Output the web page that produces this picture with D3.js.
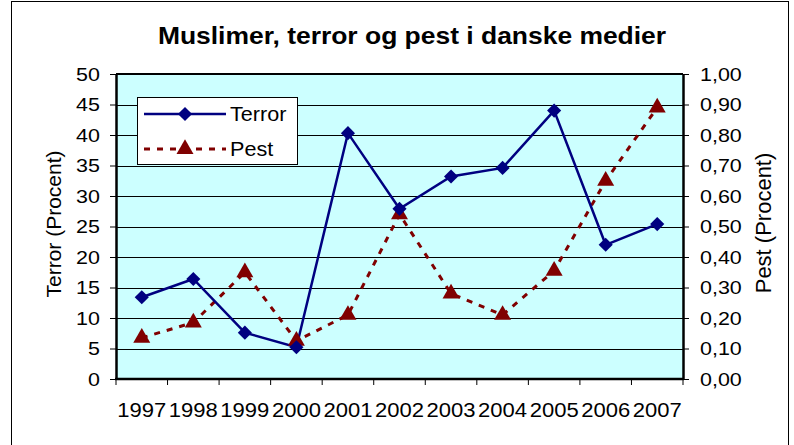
<!DOCTYPE html>
<html>
<head>
<meta charset="utf-8">
<script src="https://cdn.jsdelivr.net/npm/d3@7"></script>
<style>
  html, body { margin: 0; padding: 0; background: #fff; }
  svg { display: block; font-family: "Liberation Sans", Arial, sans-serif; }
</style>
</head>
<body>
<svg id="chart" width="794" height="445"></svg>
<script>
// Data
const years = ['1997', '1998', '1999', '2000', '2001', '2002', '2003', '2004', '2005', '2006', '2007'];
const terror = [13.4, 16.4, 7.6, 5.2, 40.3, 27.9, 33.2, 34.6, 44.0, 22.0, 25.4];
const pest = [0.135, 0.185, 0.35, 0.125, 0.21, 0.54, 0.28, 0.21, 0.355, 0.65, 0.89];
const leftTicks = [0, 5, 10, 15, 20, 25, 30, 35, 40, 45, 50];
const rightTicks = [0, 0.1, 0.2, 0.3, 0.4, 0.5, 0.6, 0.7, 0.8, 0.9, 1.0];

const svg = d3.select('#chart');

const plot = { left: 116, right: 683, top: 74, bottom: 379 };
// the original picture is slightly stretched sideways, so the text is too
const stretch = 1.13;

// Move a text's x/y into a transform so it can be widened without shifting
function widen(sel, s = stretch) {
    sel.each(function() {
        const t = d3.select(this);
        const tx = +t.attr('x') || 0;
        const ty = +t.attr('y') || 0;
        t.attr('x', null).attr('y', null)
            .attr('transform', `translate(${tx}, ${ty}) scale(${s}, 1)`);
    });
}

// Outer chart border
svg.append('rect')
    .attr('x', 11.5).attr('y', 1.5)
    .attr('width', 777).attr('height', 460)
    .attr('fill', '#fff')
    .attr('stroke', '#000')
    .attr('stroke-width', 1);

// Scales
const x = d3.scaleBand().domain(years).range([plot.left, plot.right]);
const yL = d3.scaleLinear().domain([0, 50]).range([plot.bottom, plot.top]);
const yR = d3.scaleLinear().domain([0, 1]).range([plot.bottom, plot.top]);
const cx = d => x(d) + x.bandwidth() / 2;

// Plot background
svg.append('rect')
    .attr('x', plot.left).attr('y', plot.top)
    .attr('width', plot.right - plot.left)
    .attr('height', plot.bottom - plot.top)
    .attr('fill', '#CCFFFF');

// Gridlines
svg.append('g')
    .selectAll('line')
    .data(leftTicks.slice(1))
    .enter()
    .append('line')
    .attr('x1', plot.left).attr('x2', plot.right)
    .attr('y1', d => Math.round(yL(d)) + 0.5)
    .attr('y2', d => Math.round(yL(d)) + 0.5)
    .attr('stroke', '#000')
    .attr('stroke-width', 1);

// Plot border (top edge)
svg.append('line')
    .attr('x1', plot.left).attr('x2', plot.right)
    .attr('y1', plot.top).attr('y2', plot.top)
    .attr('stroke', '#000').attr('stroke-width', 2);

// Left axis
const leftAxis = svg.append('g')
    .attr('transform', `translate(${plot.left}, 0)`)
    .call(d3.axisLeft(yL).tickValues(leftTicks).tickSize(6).tickPadding(10).tickSizeOuter(0));
leftAxis.select('.domain').attr('stroke', '#000').attr('stroke-width', 2.5);
leftAxis.selectAll('.tick line').attr('stroke', '#000');
leftAxis.selectAll('text')
    .attr('font-family', '"Liberation Sans", Arial, sans-serif')
    .attr('font-size', 19)
    .attr('fill', '#000')
    .call(widen);

// Right axis
const fmt = d => d3.format('.2f')(d).replace('.', ',');
const rightAxis = svg.append('g')
    .attr('transform', `translate(${plot.right}, 0)`)
    .call(d3.axisRight(yR).tickValues(rightTicks).tickFormat(fmt).tickSize(6).tickPadding(11).tickSizeOuter(0));
rightAxis.select('.domain').attr('stroke', '#000').attr('stroke-width', 2.5);
rightAxis.selectAll('.tick line').attr('stroke', '#000');
rightAxis.selectAll('text')
    .attr('font-family', '"Liberation Sans", Arial, sans-serif')
    .attr('font-size', 19)
    .attr('fill', '#000')
    .call(widen);

// Bottom axis: labels at category centres, ticks at category edges
const bottomAxis = svg.append('g')
    .attr('transform', `translate(0, ${plot.bottom})`)
    .call(d3.axisBottom(x).tickSize(0).tickPadding(24));
bottomAxis.select('.domain').remove();
bottomAxis.selectAll('text')
    .attr('font-family', '"Liberation Sans", Arial, sans-serif')
    .attr('font-size', 19.5)
    .attr('fill', '#000')
    .call(widen);

svg.append('line')
    .attr('x1', plot.left - 1).attr('x2', plot.right + 1)
    .attr('y1', plot.bottom).attr('y2', plot.bottom)
    .attr('stroke', '#000').attr('stroke-width', 2.5);

svg.append('g')
    .selectAll('line')
    .data(years.map(d => x(d)).concat([plot.right]))
    .enter()
    .append('line')
    .attr('x1', d => d).attr('x2', d => d)
    .attr('y1', plot.bottom).attr('y2', plot.bottom + 6)
    .attr('stroke', '#000');

// Axis titles
svg.append('text')
    .attr('transform', `translate(61, 224) rotate(-90)`)
    .attr('text-anchor', 'middle')
    .attr('font-size', 21)
    .text('Terror (Procent)');

svg.append('text')
    .attr('transform', `translate(771, 223) rotate(-90)`)
    .attr('text-anchor', 'middle')
    .attr('font-size', 22)
    .text('Pest (Procent)');

// Title
svg.append('text')
    .attr('x', 412).attr('y', 44)
    .attr('text-anchor', 'middle')
    .attr('font-size', 23)
    .attr('font-weight', 'bold')
    .text('Muslimer, terror og pest i danske medier')
    .call(widen, 1.15);

// Series
const terrorColor = '#000080';
const pestColor = '#800000';
const diamond = d3.symbol(d3.symbolSquare, 100);
const triangle = d3.symbol(d3.symbolTriangle, 125);

const pestLine = d3.line().x((d, i) => cx(years[i])).y(d => yR(d));
svg.append('path')
    .datum(pest)
    .attr('d', pestLine)
    .attr('fill', 'none')
    .attr('stroke', pestColor)
    .attr('stroke-width', 3)
    .attr('stroke-dasharray', '6,7');

const terrorLine = d3.line().x((d, i) => cx(years[i])).y(d => yL(d));
svg.append('path')
    .datum(terror)
    .attr('d', terrorLine)
    .attr('fill', 'none')
    .attr('stroke', terrorColor)
    .attr('stroke-width', 2.5);

svg.append('g')
    .selectAll('path')
    .data(pest)
    .enter()
    .append('path')
    .attr('d', triangle)
    .attr('transform', (d, i) => `translate(${cx(years[i])}, ${yR(d)})`)
    .attr('fill', pestColor);

svg.append('g')
    .selectAll('path')
    .data(terror)
    .enter()
    .append('path')
    .attr('d', diamond)
    .attr('transform', (d, i) => `translate(${cx(years[i])}, ${yL(d)}) rotate(45)`)
    .attr('fill', terrorColor);

// Legend
const legend = svg.append('g').attr('transform', 'translate(137, 97)');
legend.append('rect')
    .attr('x', 0.5).attr('y', 0.5)
    .attr('width', 160).attr('height', 67)
    .attr('fill', '#fff')
    .attr('stroke', '#000');

const legendItems = [
    { label: 'Terror', color: terrorColor, dash: null, width: 2.5, symbol: diamond, rot: 45 },
    { label: 'Pest', color: pestColor, dash: '6,7', width: 3, symbol: triangle, rot: 0 }
];
const item = legend.selectAll('.legend-item')
    .data(legendItems)
    .enter()
    .append('g')
    .attr('class', 'legend-item')
    .attr('transform', (d, i) => `translate(0, ${17 + i * 35})`);
item.append('line')
    .attr('x1', 7).attr('x2', 89)
    .attr('stroke', d => d.color)
    .attr('stroke-width', d => d.width)
    .attr('stroke-dasharray', d => d.dash);
item.append('path')
    .attr('d', d => d.symbol())
    .attr('transform', d => `translate(48, 0) rotate(${d.rot})`)
    .attr('fill', d => d.color);
item.append('text')
    .attr('x', 93)
    .attr('y', 7)
    .attr('font-size', 20)
    .text(d => d.label)
    .call(widen, 1.08);
</script>
</body>
</html>
